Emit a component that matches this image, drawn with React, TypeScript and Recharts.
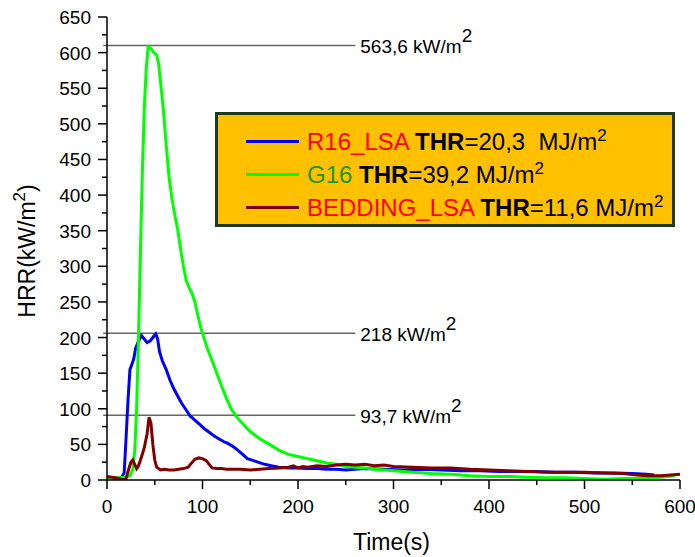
import { Legend, Line, LineChart, ReferenceLine, XAxis, YAxis } from 'recharts';

const FONT = "Arial, 'Liberation Sans', sans-serif";

// R16_LSA (blue)
const r16Time = [0, 5, 10, 15, 18, 20, 22, 24, 26, 28, 30, 33, 36, 39, 42, 45, 48, 51, 53, 55, 58, 62, 66, 70, 74, 78, 82, 87, 92, 97, 102, 107, 112, 117, 122, 127, 132, 137, 142, 147, 152, 158, 165, 172, 180, 190, 200, 210, 220, 230, 240, 250, 270, 290, 310, 330, 350, 370, 390, 410, 430, 450, 470, 490, 510, 530, 550, 565, 573];
const r16Hrr = [4, 3, 2, 3, 10, 60, 112, 155, 162, 170, 185, 195, 203, 198, 193, 195, 200, 205, 198, 180, 167, 155, 140, 128, 118, 108, 100, 90, 84, 78, 72, 67, 62, 58, 54, 51, 47, 42, 36, 30, 28, 25, 22, 20, 18, 17, 17, 16, 16, 15, 15, 14, 16, 15, 14, 15, 14, 13, 13, 12, 12, 12, 11, 11, 10, 10, 9, 8, 7];

// G16 (green)
const g16Time = [0, 10, 20, 24, 27, 29, 31, 33, 35, 37, 39, 41, 43, 46, 49, 52, 54, 56, 59, 62, 65, 68, 71, 74, 77, 80, 83, 86, 89, 92, 95, 98, 101, 105, 110, 115, 120, 125, 130, 135, 140, 150, 160, 170, 180, 190, 200, 210, 220, 230, 240, 250, 260, 270, 280, 290, 300, 320, 340, 360, 380, 400, 420, 440, 460, 480, 500, 520, 540, 560, 580, 595];
const g16Hrr = [3, 3, 4, 6, 15, 40, 100, 200, 320, 430, 520, 575, 608, 606, 600, 597, 585, 560, 520, 470, 425, 395, 372, 352, 325, 300, 280, 270, 262, 250, 232, 215, 202, 185, 168, 150, 132, 115, 100, 90, 82, 68, 58, 50, 42, 36, 33, 30, 27, 24, 22, 19, 18, 17, 15, 14, 13, 11, 9, 8, 6, 5, 5, 4, 3, 3, 2, 1, 2, 2, 4, 6];

// BEDDING_LSA (dark red)
const bedTime = [0, 5, 10, 15, 18, 20, 22, 25, 27, 29, 31, 33, 36, 39, 42, 44, 46, 48, 50, 52, 56, 60, 65, 70, 75, 80, 85, 88, 92, 96, 100, 104, 107, 110, 115, 120, 125, 130, 140, 150, 160, 170, 180, 190, 195, 200, 205, 210, 220, 230, 240, 250, 260, 270, 280, 290, 300, 320, 340, 360, 380, 400, 420, 440, 460, 480, 500, 520, 540, 555, 565, 580, 590, 600];
const bedHrr = [5, 4, 3, 1, 0, 2, 12, 25, 28, 22, 16, 20, 32, 45, 65, 88, 80, 50, 28, 18, 14, 15, 14, 14, 15, 16, 18, 23, 29, 31, 30, 27, 22, 17, 16, 16, 15, 15, 15, 14, 15, 16, 17, 18, 20, 17, 19, 18, 20, 19, 21, 22, 21, 22, 20, 21, 19, 18, 17, 17, 15, 14, 13, 12, 11, 11, 11, 10, 9, 7, 6, 6, 7, 8];

const xTicks = [0, 50, 100, 150, 200, 250, 300, 350, 400, 450, 500, 550, 600];
const yTicks = [0, 25, 50, 75, 100, 125, 150, 175, 200, 225, 250, 275, 300, 325, 350, 375, 400, 425, 450, 475, 500, 525, 550, 575, 600, 625, 650];

// horizontal marker lines and their captions
const refValues = [610, 206, 91];
const refLabels = ['563,6', '218', '93,7'];

const seriesNames = ['R16_LSA', 'G16', 'BEDDING_LSA'];
const thrValues = ['20,3  ', '39,2 ', '11,6 '];

const r16Data = r16Time.map((t, i) => ({ t, hrr: r16Hrr[i] }));
const g16Data = g16Time.map((t, i) => ({ t, hrr: g16Hrr[i] }));
const bedData = bedTime.map((t, i) => ({ t, hrr: bedHrr[i] }));

const nameColors: Record<string, string> = {
  R16_LSA: '#ff0000',
  G16: '#1a9a1a',
  BEDDING_LSA: '#ff0000',
};

function XTick(props: any) {
  const { x, y, payload } = props;
  const major = payload.value % 100 === 0;
  return (
    <g>
      <line x1={x} y1={y} x2={x} y2={y + (major ? 9 : 5)} stroke="#000" strokeWidth={1.5} />
      {major && (
        <text x={x} y={y + 33} textAnchor="middle" fontSize={19} fontFamily={FONT} fill="#000">
          {payload.value}
        </text>
      )}
    </g>
  );
}

function YTick(props: any) {
  const { x, y, payload } = props;
  const major = payload.value % 50 === 0;
  return (
    <g>
      <line x1={x} y1={y} x2={x - (major ? 9 : 5)} y2={y} stroke="#000" strokeWidth={1.5} />
      {major && (
        <text x={x - 16} y={y + 7} textAnchor="end" fontSize={19} fontFamily={FONT} fill="#000">
          {payload.value}
        </text>
      )}
    </g>
  );
}

function RefLabel(props: any) {
  const { viewBox, text } = props;
  const x = viewBox.x + viewBox.width + 5;
  const y = viewBox.y + 8;
  return (
    <text x={x} y={y} fontSize={19} fontFamily={FONT} fill="#000">
      {text} kW/m
      <tspan dy={-11}>2</tspan>
    </text>
  );
}

function XLabel(props: any) {
  const { viewBox } = props;
  return (
    <text x={viewBox.x + viewBox.width / 2 - 2} y={viewBox.y + 70} textAnchor="middle" fontSize={23} fontFamily={FONT} fill="#000">
      Time(s)
    </text>
  );
}

function YLabel() {
  return (
    <text x={35} y={251} transform="rotate(-90, 35, 251)" textAnchor="middle" fontSize={23} fontFamily={FONT} fill="#000">
      HRR(kW/m
      <tspan dy={-10} fontSize={17}>2</tspan>
      <tspan dy={10}>)</tspan>
    </text>
  );
}

function LegendBox(props: any) {
  const { payload = [] } = props;
  // keep the legend in the series order, whatever order recharts hands back
  const rows = [...payload].sort(
    (a: any, b: any) => seriesNames.indexOf(a.value) - seriesNames.indexOf(b.value),
  );
  return (
    <div
      style={{
        boxSizing: 'border-box',
        width: 460,
        height: 115,
        background: '#ffc000',
        border: '3px solid #1d3a1d',
        paddingTop: 10,
        fontFamily: FONT,
        fontSize: 24,
      }}
    >
      {rows.map((entry: any) => {
        const idx = seriesNames.indexOf(entry.value);
        return (
          <div key={entry.value} style={{ height: 33, display: 'flex', alignItems: 'center', whiteSpace: 'pre' }}>
            <div style={{ marginLeft: 28, width: 53, height: 3, background: entry.color }} />
            <span style={{ marginLeft: 8, lineHeight: '33px', color: '#000' }}>
              <span style={{ color: nameColors[entry.value] }}>{entry.value}</span>{' '}
              <b>THR</b>={thrValues[idx]}MJ/m
              <sup style={{ fontSize: 17, lineHeight: 0 }}>2</sup>
            </span>
          </div>
        );
      })}
    </div>
  );
}

export default function App() {
  return (
    <div style={{ position: 'absolute', left: 0, top: 0, background: '#fff' }}>
      <LineChart width={695} height={557} margin={{ top: 17, right: 15, bottom: 0, left: 0 }}>
        <XAxis
          dataKey="t"
          type="number"
          domain={[0, 600]}
          ticks={xTicks}
          interval={0}
          height={77}
          tickSize={0}
          tickMargin={0}
          tickLine={false}
          tick={<XTick />}
          axisLine={{ stroke: '#000', strokeWidth: 1.5 }}
          allowDataOverflow
          label={<XLabel />}
        />
        <YAxis
          type="number"
          domain={[0, 650]}
          ticks={yTicks}
          interval={0}
          width={107}
          tickSize={0}
          tickMargin={0}
          tickLine={false}
          tick={<YTick />}
          axisLine={{ stroke: '#000', strokeWidth: 1.5 }}
          allowDataOverflow
          label={<YLabel />}
        />
        {refValues.map((v, i) => (
          <ReferenceLine
            key={v}
            segment={[{ x: -4, y: v }, { x: 260, y: v }]}
            ifOverflow="visible"
            stroke="#666"
            strokeWidth={1.5}
            label={<RefLabel text={refLabels[i]} />}
          />
        ))}
        <Line data={r16Data} dataKey="hrr" name="R16_LSA" stroke="#0000ff" strokeWidth={3} dot={false} isAnimationActive={false} />
        <Line data={g16Data} dataKey="hrr" name="G16" stroke="#00ff00" strokeWidth={3} dot={false} isAnimationActive={false} />
        <Line data={bedData} dataKey="hrr" name="BEDDING_LSA" stroke="#800000" strokeWidth={3} dot={false} isAnimationActive={false} />
        <Legend
          layout="horizontal"
          verticalAlign="middle"
          align="center"
          content={<LegendBox />}
          wrapperStyle={{ left: 215, top: 112, width: 460, height: 115 }}
        />
      </LineChart>
    </div>
  );
}
